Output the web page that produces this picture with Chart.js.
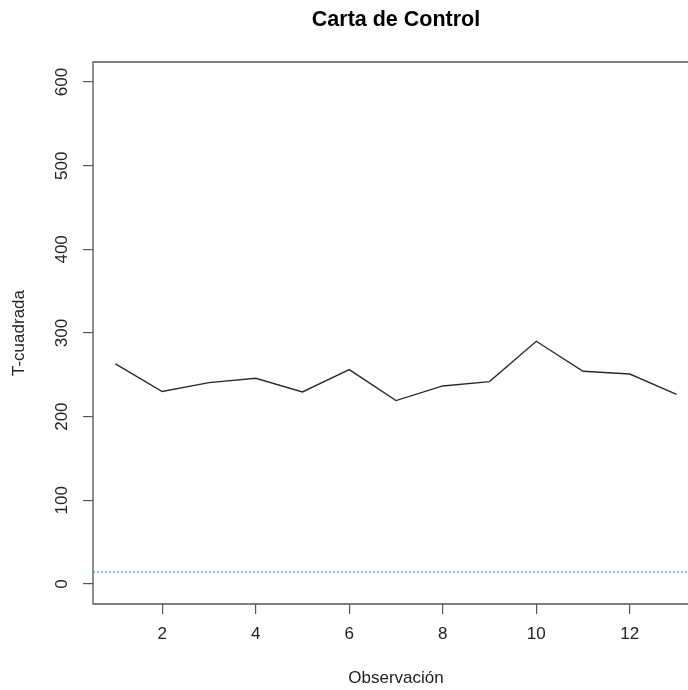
<!DOCTYPE html>
<html>
<head>
<meta charset="utf-8">
<script src="https://cdn.jsdelivr.net/npm/chart.js@4/dist/chart.umd.min.js"></script>
<style>
  html, body { margin: 0; padding: 0; background: #fff; overflow: hidden; }
  #wrap { width: 688px; height: 690px; overflow: hidden; position: relative; }
  #chart { display: block; position: absolute; left: 0; top: 0; width: 720px; height: 690px; }
</style>
</head>
<body>
<div id="wrap"><canvas id="chart" width="720" height="690"></canvas></div>
<script>
// Hotelling T² statistic per observation
const observaciones = [1, 2, 3, 4, 5, 6, 7, 8, 9, 10, 11, 12, 13];
const tCuadrada = [263, 230, 240.7, 245.8, 229.5, 256.2, 219.2, 236.7, 241.9, 290.1, 254.2, 251.0, 226.7];
const limiteControl = 14.3;

const xTicks = [2, 4, 6, 8, 10, 12];
const yTicks = [0, 100, 200, 300, 400, 500, 600];
const yLimits = [0, 600];

// axis ranges padded by 4% on each side
function padRange(lo, hi) {
  const ext = (hi - lo) * 0.04;
  return [lo - ext, hi + ext];
}
const [xMin, xMax] = padRange(Math.min(...observaciones), Math.max(...observaciones));
const [yMin, yMax] = padRange(yLimits[0], yLimits[1]);

const FONT = "'Liberation Sans', Arial, sans-serif";
const INK = '#222';
const FRAME = '#555';

// frame around the plotting region (left, top and bottom sides;
// the right side lies past the visible page edge)
const framePlugin = {
  id: 'frame',
  afterDraw(chart) {
    const {ctx, chartArea: a} = chart;
    ctx.save();
    ctx.strokeStyle = FRAME;
    ctx.lineWidth = 1.3;
    ctx.beginPath();
    ctx.moveTo(a.right, a.top);
    ctx.lineTo(a.left, a.top);
    ctx.lineTo(a.left, a.bottom);
    ctx.lineTo(a.right, a.bottom);
    ctx.stroke();
    ctx.restore();
  }
};

new Chart(document.getElementById('chart'), {
  type: 'line',
  data: {
    datasets: [
      {
        label: 'T-cuadrada',
        data: observaciones.map((x, i) => ({x, y: tCuadrada[i]})),
        borderColor: '#2a2a2a',
        borderWidth: 1.4,
        pointRadius: 0,
        tension: 0,
        fill: false
      },
      {
        label: 'Límite',
        data: [{x: xMin, y: limiteControl}, {x: xMax, y: limiteControl}],
        borderColor: '#3d9be6',
        borderWidth: 1.3,
        borderDash: [2, 2],
        pointRadius: 0,
        fill: false
      }
    ]
  },
  options: {
    responsive: false,
    animation: false,
    devicePixelRatio: 1,
    layout: { padding: { left: 0, right: 21, top: 0, bottom: 0 } },
    plugins: {
      legend: { display: false },
      tooltip: { enabled: false },
      title: {
        display: true,
        text: 'Carta de Control',
        fullSize: false,
        color: '#000',
        font: { family: FONT, size: 21.5, weight: 'bold', lineHeight: 1.2 },
        padding: { top: 7.5, bottom: 28.7 }
      }
    },
    scales: {
      x: {
        type: 'linear',
        min: xMin,
        max: xMax,
        afterBuildTicks(scale) { scale.ticks = xTicks.map(v => ({value: v})); },
        afterFit(scale) { scale.height = 86; },
        grid: { display: true, drawOnChartArea: false, drawTicks: true, tickLength: 10, color: FRAME, lineWidth: 1.2 },
        border: { display: false },
        ticks: { color: INK, font: { family: FONT, size: 17 }, padding: 10, maxRotation: 0, autoSkip: false },
        title: { display: true, text: 'Observación', color: INK, font: { family: FONT, size: 17, lineHeight: 1.2 }, padding: { top: 0, bottom: 1 } }
      },
      y: {
        type: 'linear',
        min: yMin,
        max: yMax,
        afterBuildTicks(scale) { scale.ticks = yTicks.map(v => ({value: v})); },
        afterFit(scale) { scale.width = 93; },
        grid: { display: true, drawOnChartArea: false, drawTicks: true, tickLength: 10, color: FRAME, lineWidth: 1.2 },
        border: { display: false },
        ticks: { color: INK, font: { family: FONT, size: 17 }, padding: 7, minRotation: 90, maxRotation: 90, crossAlign: 'center', autoSkip: false },
        title: { display: true, text: 'T-cuadrada', color: INK, font: { family: FONT, size: 17, lineHeight: 1.2 }, padding: { top: 9, bottom: 0 } }
      }
    }
  },
  plugins: [framePlugin]
});
</script>
</body>
</html>
